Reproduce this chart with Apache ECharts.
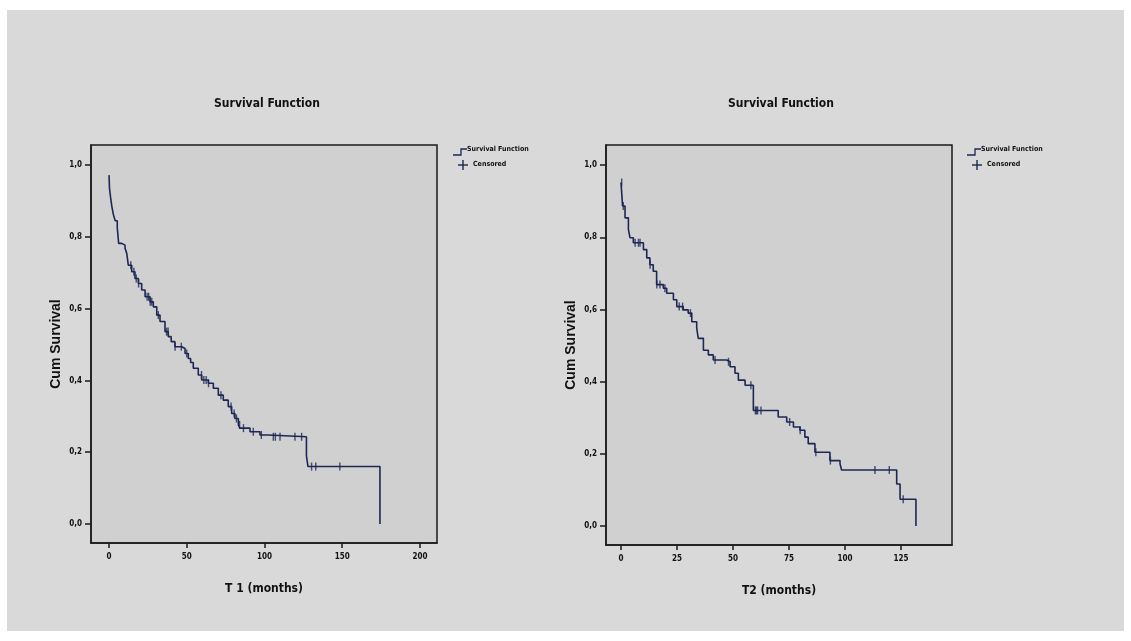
<!DOCTYPE html>
<html>
<head>
<meta charset="utf-8">
<script src="https://cdn.jsdelivr.net/npm/echarts@6/dist/echarts.min.js"></script>
<style>
html,body{margin:0;padding:0;background:#ffffff;}
#chart{width:1131px;height:641px;}
</style>
</head>
<body>
<div id="chart"></div>
<script>
// ---- data ----
const chartTitle = "Survival Function";
const yAxisName = "Cum Survival";
const xAxisName1 = "T 1 (months)";
const xAxisName2 = "T2 (months)";
const legendLabels = ["Survival Function", "Censored"];
const yTicks = [0, 0.2, 0.4, 0.6, 0.8, 1.0];
const xTicks1 = [0, 50, 100, 150, 200];
const xTicks2 = [0, 25, 50, 75, 100, 125];

// T1: [time of step, survival after the step]
const survival1 = [
  [0,0.972],[0.3,0.935],[1.0,0.91],[1.8,0.885],[2.8,0.862],[4.0,0.845],[5.3,0.825],[6.2,0.782],
  [8.2,0.777],[10.3,0.768],[11.4,0.754],[12.4,0.721],[14.6,0.703],[16.7,0.684],[18.9,0.670],
  [21,0.652],[23.2,0.633],[26.4,0.619],[28.5,0.605],[30.7,0.582],[32.8,0.564],[36,0.536],
  [38.1,0.522],[40,0.508],[42.4,0.494],[46.8,0.489],[48.9,0.475],[51,0.461],[52.5,0.45],
  [54.2,0.434],[57.4,0.415],[59.6,0.401],[63.9,0.392],[67.1,0.378],[70.3,0.359],[73.5,0.345],
  [76.7,0.327],[78.9,0.308],[81,0.294],[83.2,0.276],[84.2,0.267],[90.7,0.257],[97.1,0.248],
  [102.4,0.243],[127,0.19],[128,0.16],[174.3,0]
];
const censored1 = [14,16,17.5,19,24.5,25.5,26.5,27.5,31.7,37,38,42.5,46.5,50,59.5,61,62.5,64,72,
  78.5,80.5,82,84,86.5,92.8,98,105.7,107,110,119.6,123.9,130.3,133,148.5];

// T2
const survival2 = [
  [0,0.952],[0.7,0.887],[1.8,0.854],[3.3,0.822],[4.0,0.799],[5.5,0.785],[10,0.766],[11.5,0.743],
  [12.9,0.724],[14.4,0.706],[15.9,0.669],[18.9,0.659],[20.4,0.645],[23.4,0.627],[24.9,0.608],
  [27.8,0.599],[30,0.590],[31.6,0.566],[33.8,0.548],[34.5,0.520],[36.8,0.487],[39,0.474],
  [41.2,0.460],[47.2,0.455],[48.7,0.441],[50.9,0.423],[52.4,0.404],[55.4,0.390],[59.1,0.320],
  [70.2,0.302],[74,0.288],[77,0.274],[79.9,0.265],[82.1,0.246],[83.6,0.228],[86.6,0.204],
  [93.3,0.181],[97.8,0.172],[98.5,0.155],[123.1,0.116],[124.6,0.074],[131.7,0]
];
const censored2 = [0.3,1.0,6.3,7.8,8.5,13,16,17.4,19.6,26,27.5,31,42,48,58,60,60.5,61,62.5,
  75.3,80,87,93.5,113.4,119.8,126];

// ---- helpers ----
function survAt(curve, t){
  let s = curve[0][1];
  for (const p of curve){ if (p[0] <= t) s = p[1]; else break; }
  return s;
}
const fmtY = v => v.toFixed(1).replace('.', ',');
const lineColor = '#1c2755';
const FONT = '"DejaVu Sans Condensed","Liberation Sans Narrow",Arial,sans-serif';
const FONT2 = '"Liberation Sans",Arial,sans-serif';

function makeX(idx, min, max, ticks, name){
  return {
    gridIndex: idx, type:'value', min:min, max:max,
    splitLine:{show:false},
    axisLine:{show:true, onZero:false, lineStyle:{color:'#1a1a1a', width:1.5}},
    axisTick:{show:true, inside:false, length:5, customValues:ticks, lineStyle:{color:'#1a1a1a', width:1.5}},
    axisLabel:{show:true, customValues:ticks, margin:10, color:'#111', fontFamily:FONT, fontWeight:'bold', fontSize:8},
    name:name, nameLocation:'middle', nameGap:40,
    nameTextStyle:{color:'#111', fontFamily:FONT, fontWeight:'bold', fontSize:12}
  };
}
function makeY(idx){
  return {
    gridIndex: idx, type:'value', min:-0.053, max:1.056,
    splitLine:{show:false},
    axisLine:{show:true, onZero:false, lineStyle:{color:'#1a1a1a', width:1.5}},
    axisTick:{show:true, inside:false, length:6, customValues:yTicks, lineStyle:{color:'#1a1a1a', width:1.5}},
    axisLabel:{show:true, customValues:yTicks, margin:9, formatter:fmtY, color:'#111', fontFamily:FONT, fontWeight:'bold', fontSize:8},
    name:yAxisName, nameLocation:'middle', nameGap:28, nameRotate:90,
    nameTextStyle:{color:'#111', fontFamily:FONT2, fontWeight:'bold', fontSize:14}
  };
}
function curveSeries(idx, data){
  return {type:'line', xAxisIndex:idx, yAxisIndex:idx, step:'end', data:data, showSymbol:false,
    lineStyle:{color:lineColor, width:1.6}, silent:true, animation:false, z:3};
}
function censorSeries(idx, curve, times){
  return {type:'scatter', xAxisIndex:idx, yAxisIndex:idx, data: times.map(t=>[t, survAt(curve,t)]),
    symbol:'rect', symbolSize:[1.4,8], itemStyle:{color:lineColor}, silent:true, animation:false, z:4};
}

function legendGraphics(x0, y0){
  return [
    {type:'polyline', shape:{points:[[x0,y0+4],[x0+8,y0+4],[x0+8,y0-2],[x0+14,y0-2]]},
     style:{stroke:lineColor, lineWidth:1.3, fill:null}},
    {type:'text', left:x0+14, top:y0-5, style:{text:legendLabels[0], fill:'#111', font:'bold 7px '+FONT}},
    {type:'line', shape:{x1:x0+10, y1:y0+9, x2:x0+10, y2:y0+19}, style:{stroke:lineColor, lineWidth:1.4}},
    {type:'line', shape:{x1:x0+5, y1:y0+14, x2:x0+15, y2:y0+14}, style:{stroke:lineColor, lineWidth:1.4}},
    {type:'text', left:x0+20, top:y0+10, style:{text:legendLabels[1], fill:'#111', font:'bold 7px '+FONT}}
  ];
}

const chart = echarts.init(document.getElementById('chart'), null, {renderer:'canvas'});
const option = {
  backgroundColor:'#ffffff',
  animation:false,
  title:[
    {text:chartTitle, left:262, top:93, textAlign:'center', textStyle:{fontFamily:FONT, fontWeight:'bold', fontSize:12, color:'#111'}},
    {text:chartTitle, left:776, top:93, textAlign:'center', textStyle:{fontFamily:FONT, fontWeight:'bold', fontSize:12, color:'#111'}}
  ],
  graphic:[
    {type:'rect', shape:{x:7, y:10, width:1117, height:621}, style:{fill:'#d9d9d9'}, z:-10, silent:true},
    ...legendGraphics(453, 151),
    ...legendGraphics(967, 151)
  ],
  grid:[
    {left:91, top:145, width:346, height:398, show:true, backgroundColor:'#d0d0d0', borderColor:'#1a1a1a', borderWidth:1.5},
    {left:606, top:145, width:346, height:400, show:true, backgroundColor:'#d0d0d0', borderColor:'#1a1a1a', borderWidth:1.5}
  ],
  xAxis:[ makeX(0, -11.6, 211, xTicks1, xAxisName1), makeX(1, -6.7, 147.8, xTicks2, xAxisName2) ],
  yAxis:[ makeY(0), makeY(1) ],
  series:[
    curveSeries(0, survival1), censorSeries(0, survival1, censored1),
    curveSeries(1, survival2), censorSeries(1, survival2, censored2)
  ]
};
chart.setOption(option);
</script>
</body>
</html>
